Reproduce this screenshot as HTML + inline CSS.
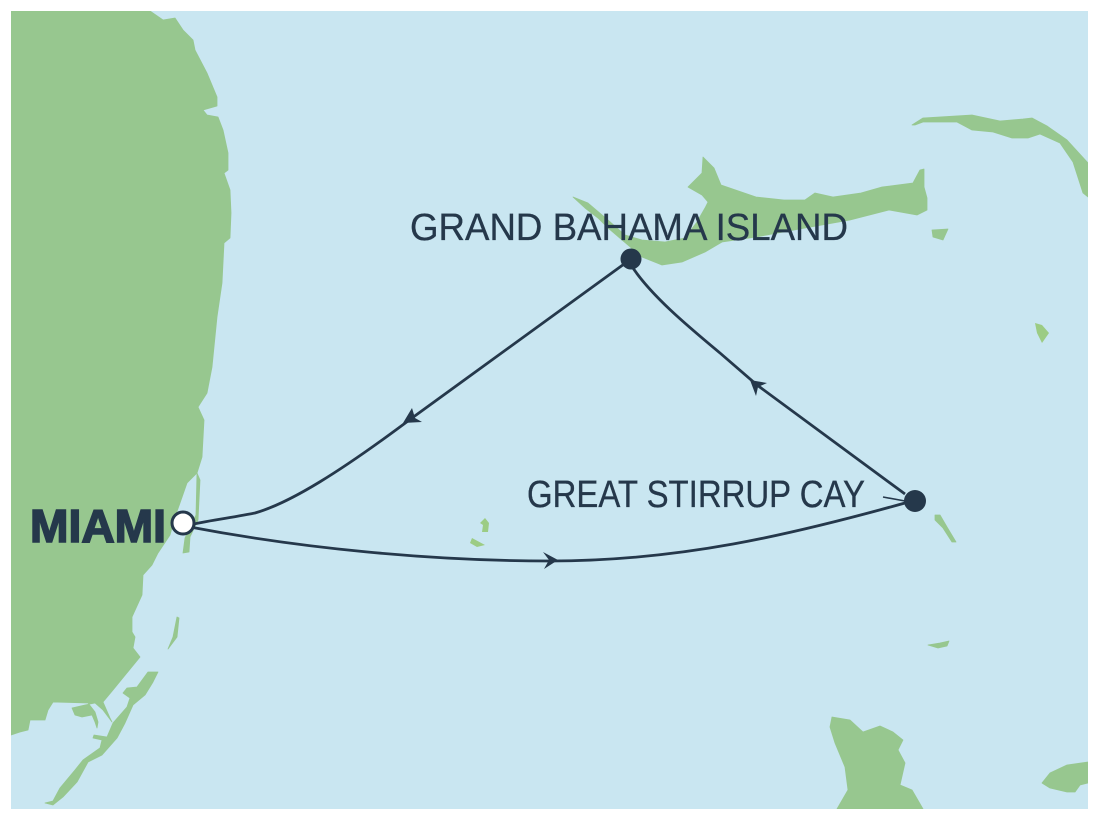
<!DOCTYPE html>
<html>
<head>
<meta charset="utf-8">
<style>
html,body{margin:0;padding:0;background:#fff;width:1108px;height:830px;overflow:hidden}
svg{display:block}
text{font-family:"Liberation Sans",sans-serif;fill:#25384b}
</style>
</head>
<body>
<svg width="1108" height="830" viewBox="0 0 1108 830" xmlns="http://www.w3.org/2000/svg">
<defs><clipPath id="m"><rect x="11" y="11" width="1077" height="798"/></clipPath></defs>
<rect width="1108" height="830" fill="#fff"/>
<g clip-path="url(#m)">
<rect x="11" y="11" width="1077" height="798" fill="#c9e6f1"/>
<g fill="#97c78f" stroke="#97c78f" stroke-width="0.8" stroke-linejoin="round">
<path d="M11 11L150 11L163 20L175 18L183 30L193 40L195 50L207 73L217 97L217 106L203 110L207 115L218 117L223 130L228 153L228 170L224 173L230 190L231 213L230 238L224 243L222 283L217 317L212 367L207 393L198 407L204 420L202 457L197 473L187 483L180 503L175 517L170 535L158 553L152 565L143 575L142 595L132 617L132 632L135 637L133 648L140 657L113 690L103 702L110 718L112 722L103 710L95 703L85 705L72 708L75 715L82 717L92 715L95 722L97 728L98 722L95 712L88 703L53 702L48 710L45 720L30 720L28 730L20 732L11 735Z"/>
<path d="M197 473L200 480L198 520L190 537L189 552L183 553L185 538L196 515Z"/>
<path d="M177 617L179 618L177 637L168 649L173 637Z"/>
<path d="M158 672L153 682L145 695L133 705L125 723L117 738L102 755L88 762L77 782L63 797L53 805L45 803L53 801L60 788L75 770L83 760L100 748L102 740L93 738L94 735L107 737L113 723L127 707L130 698L123 693L127 688L137 687L148 672Z"/>
<path d="M573 197L588 203L608 220L625 235L642 240L665 242L685 238L697 222L705 208L708 202L702 195L688 187L702 173L703 157L714 168L721 185L756 197L784 200L805 200L815 193L833 197L861 193L882 187L913 183L920 170L924 169L924 187L927 198L927 210L917 215L889 210L850 220L805 228L756 237L722 242L705 252L682 262L662 265L642 257L622 240L608 228L598 218L585 208Z"/>
<path d="M912 125L923 118L972 115L1000 121L1023 119L1032 118L1047 126L1067 140L1088 163L1088 197L1083 193L1073 162L1060 143L1040 134L1028 138L1012 138L993 132L972 130L957 122L923 122L915 125Z"/>
<path d="M932 230L948 229L943 240L933 237Z"/>
<path d="M935 515L940 515L947 527L956 542L952 542L943 528L935 520Z"/>
<path d="M928 645L940 643L949 641L947 646L938 648Z"/>
<path d="M832 717L850 720L863 732L880 726L893 732L903 740L898 750L905 763L900 785L912 790L923 809L837 809L848 790L845 767L835 743L830 727Z"/>
<path d="M1088 762L1067 765L1050 773L1042 783L1050 788L1067 792L1075 792L1080 785L1088 783Z"/>
</g>
<g fill="#9ccc84">
<path d="M1035 323L1042 325L1049 333L1042 343L1037 333Z"/>
<path d="M485 518L489 523L488 532L482 532L483 525L480 523Z"/>
<path d="M472 538L485 545L477 547L470 543Z"/>
</g>
</g>
<g fill="none" stroke="#25384b" stroke-width="2.8">
<path d="M631 259L412 418C340 472 290 503 255 513C225 519 205 521 190 525"/>
<path d="M190 527C300 548 430 561 550 561C680 561 790 535 905 503"/>
<path d="M905 494L757 385L720 353C690 328 650 295 631 265"/>
<path d="M883 497L905 501" stroke-width="1.6"/>
</g>
<g fill="#25384b">
<path d="M403 423L412 408L415 418L422 422Z"/>
<path d="M558 560L543 552L549 560L544 569Z"/>
<path d="M750 380L767 383L758 387L756 396Z"/>
<circle cx="631" cy="259" r="10.5"/>
<circle cx="915" cy="501" r="11"/>
</g>
<text x="410" y="240" font-size="38" stroke="#25384b" stroke-width="0.3" textLength="438" lengthAdjust="spacingAndGlyphs">GRAND BAHAMA ISLAND</text>
<text x="527" y="507" font-size="38" stroke="#25384b" stroke-width="0.3" textLength="338" lengthAdjust="spacingAndGlyphs">GREAT STIRRUP CAY</text>
<text x="30" y="542" font-size="46" font-weight="bold" stroke="#25384b" stroke-width="1.6" textLength="136" lengthAdjust="spacingAndGlyphs">MIAMI</text>
<circle cx="183" cy="523" r="11" fill="#fff" stroke="#25384b" stroke-width="3"/>
</svg>
</body>
</html>
